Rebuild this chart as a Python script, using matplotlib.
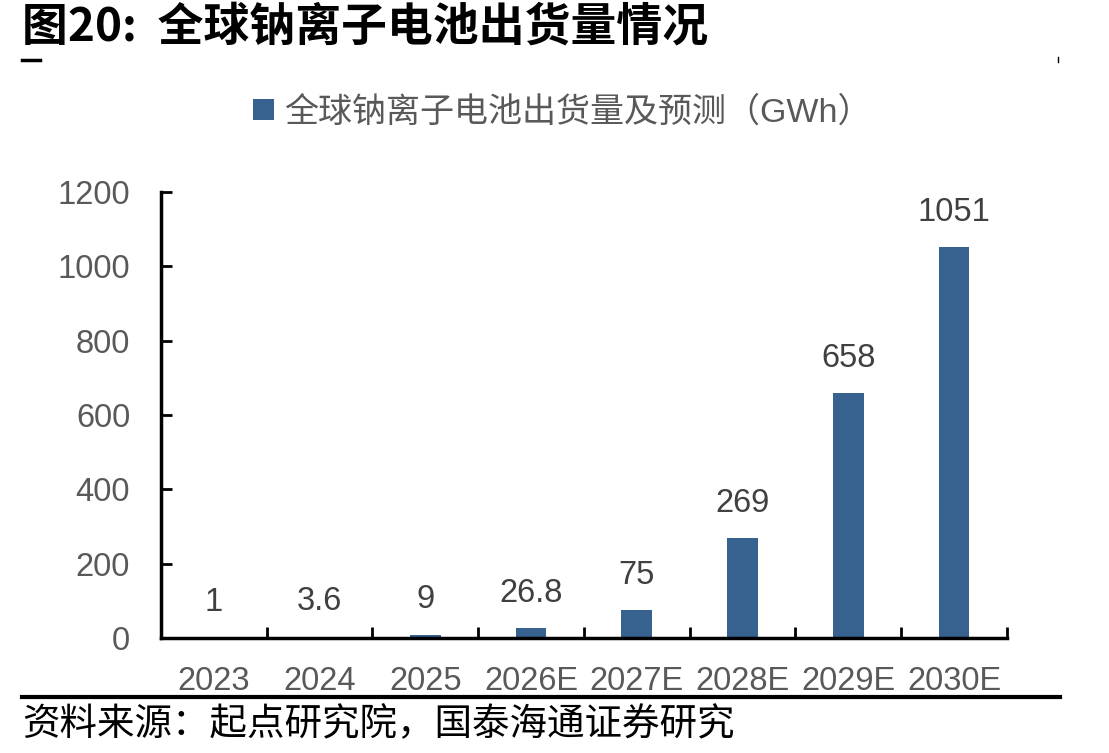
import numpy as np
import matplotlib.pyplot as plt
from matplotlib.lines import Line2D

plt.rcParams['font.family'] = ['Liberation Sans', 'Noto Sans CJK SC', 'DejaVu Sans']

years = ['2023', '2024', '2025', '2026E', '2027E', '2028E', '2029E', '2030E']
shipments = [1, 3.6, 9, 26.8, 75, 269, 658, 1051]
value_labels = ['1', '3.6', '9', '26.8', '75', '269', '658', '1051']
y_ticks = [0, 200, 400, 600, 800, 1000, 1200]

bar_color = '#37618f'
text_gray = '#595959'

fig = plt.figure(figsize=(11.09, 7.53), dpi=100)
ax = fig.add_axes([0.145, 0.1527, 0.763, 0.5923])

x = np.arange(len(years))
bars = ax.bar(x, shipments, width=0.29, color=bar_color,
              label='全球钠离子电池出货量及预测（GWh）')

for xi, v, lab in zip(x, shipments, value_labels):
    ax.annotate(lab, (xi, v), xytext=(0, 25), textcoords='offset points',
                ha='center', va='center', fontsize=23.5, color='#404040')

ax.set_xlim(-0.5, 7.5)
ax.set_ylim(0, 1200)
ax.set_yticks(y_ticks)
ax.set_yticklabels([str(t) for t in y_ticks])
ax.set_xticks(x)
ax.set_xticklabels(years)
ax.set_xticks(np.arange(-0.5, 8.0, 1.0), minor=True)

ax.tick_params(axis='x', which='major', length=0, pad=20, labelsize=23.5, labelcolor=text_gray)
ax.tick_params(axis='x', which='minor', direction='in', length=8, width=2)
ax.tick_params(axis='y', direction='in', length=8, width=2, pad=22, labelsize=23.5, labelcolor=text_gray)

for s in ['top', 'right']:
    ax.spines[s].set_visible(False)
for s in ['left', 'bottom']:
    ax.spines[s].set_linewidth(2.5)

leg = fig.legend(handles=[bars], loc='center', bbox_to_anchor=(0.507, 0.851),
                 frameon=False, fontsize=24.5, handlelength=0.6, handleheight=0.6,
                 handletextpad=0.3)
for t in leg.get_texts():
    t.set_color(text_gray)

fig.text(0.02, 0.963, '图20:  全球钠离子电池出货量情况', fontsize=33, fontweight='bold',
         family=['Noto Sans CJK SC'], va='center', ha='left')
fig.add_artist(Line2D([0.02, 0.036], [0.92, 0.92], color='black', lw=2.5))
fig.add_artist(Line2D([0.954, 0.954], [0.918, 0.924], color='black', lw=1))

fig.add_artist(Line2D([0.02, 0.956], [0.074, 0.074], color='black', lw=3))
fig.text(0.02, 0.037, '资料来源：起点研究院，国泰海通证券研究', fontsize=27,
         family=['Noto Sans CJK SC'], va='center', ha='left')

fig.savefig('out.png', dpi=100)
